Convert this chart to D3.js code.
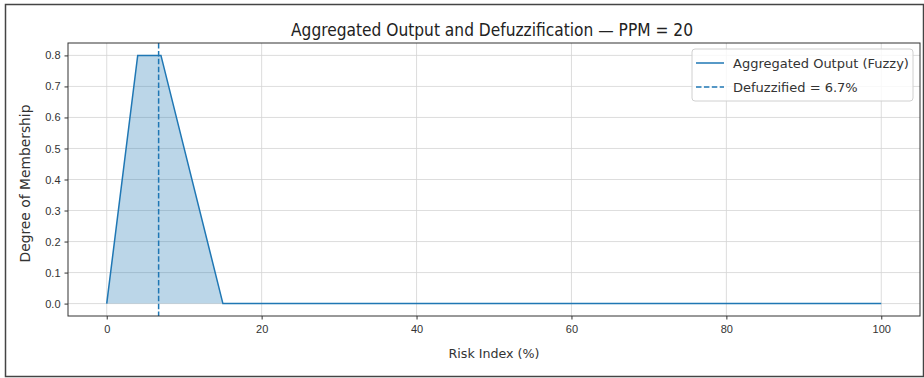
<!DOCTYPE html>
<html lang="en">
<head>
<meta charset="utf-8"/>
<title>Aggregated Output and Defuzzification</title>
<script src="https://d3js.org/d3.v7.min.js"></script>
<style>
  body { margin: 0; background: #fff; }
  svg { display: block; font-family: "DejaVu Sans", sans-serif; }
  .tick text { font-size: 11px; fill: #333; }
  .tick line { stroke: #333; }
  .domain { display: none; }
  .grid line { stroke: #d4d4d4; stroke-width: 0.8px; }
</style>
</head>
<body>
<div id="chart"></div>
<script>
// ---- data ----
var riskIndex = [0, 4, 7, 15, 100];          // x, %
var membership = [0, 0.8, 0.8, 0, 0];         // aggregated fuzzy output
var defuzzified = 6.7;                         // centroid, %
var xTicks = [0, 20, 40, 60, 80, 100];
var yTicks = [0, 0.1, 0.2, 0.3, 0.4, 0.5, 0.6, 0.7, 0.8];
var legendLabels = ["Aggregated Output (Fuzzy)", "Defuzzified = 6.7%"];

var W = 924, H = 378;
var margin = { top: 43, right: 4, bottom: 62, left: 68 },
    width = W - margin.left - margin.right,
    height = H - margin.top - margin.bottom;
var blue = "#1f77b4";

var svg = d3.select("#chart").append("svg")
    .attr("width", W)
    .attr("height", H);

// outer figure border
svg.append("rect")
    .attr("x", 5.5).attr("y", 4.5)
    .attr("width", 918).attr("height", 372)
    .attr("fill", "#fff")
    .attr("stroke", "#444")
    .attr("stroke-width", 1.5);

var g = svg.append("g")
    .attr("transform", "translate(" + margin.left + "," + margin.top + ")");

var x = d3.scaleLinear().domain([-5, 105]).range([0, width]);
var y = d3.scaleLinear().domain([-0.04, 0.84]).range([height, 0]);

// grid
g.append("g").attr("class", "grid")
  .selectAll("line").data(xTicks).enter().append("line")
    .attr("x1", function(d) { return x(d); }).attr("x2", function(d) { return x(d); })
    .attr("y1", 0).attr("y2", height);
g.append("g").attr("class", "grid")
  .selectAll("line").data(yTicks).enter().append("line")
    .attr("y1", function(d) { return y(d); }).attr("y2", function(d) { return y(d); })
    .attr("x1", 0).attr("x2", width);

var pts = riskIndex.map(function(d, i) { return [d, membership[i]]; });

// filled area
g.append("path")
    .datum(pts)
    .attr("fill", blue)
    .attr("fill-opacity", 0.3)
    .attr("d", d3.area()
      .x(function(d) { return x(d[0]); })
      .y0(y(0))
      .y1(function(d) { return y(d[1]); }));

// aggregated line
g.append("path")
    .datum(pts)
    .attr("fill", "none")
    .attr("stroke", blue)
    .attr("stroke-width", 1.5)
    .attr("d", d3.line()
      .x(function(d) { return x(d[0]); })
      .y(function(d) { return y(d[1]); }));

// defuzzified vertical line
g.append("line")
    .attr("x1", x(defuzzified)).attr("x2", x(defuzzified))
    .attr("y1", 0).attr("y2", height)
    .attr("stroke", blue)
    .attr("stroke-width", 1.5)
    .attr("stroke-dasharray", "5.5,2.4");

// axes
g.append("g")
    .attr("transform", "translate(0," + height + ")")
    .call(d3.axisBottom(x).tickValues(xTicks).tickSize(3.5).tickPadding(6)
      .tickFormat(d3.format("d")));
g.append("g")
    .call(d3.axisLeft(y).tickValues(yTicks).tickSize(3.5).tickPadding(4)
      .tickFormat(d3.format(".1f")));

// frame
g.append("rect")
    .attr("width", width).attr("height", height)
    .attr("fill", "none")
    .attr("stroke", "#333")
    .attr("stroke-width", 1);

// title and labels
svg.append("text")
    .attr("x", margin.left + width / 2 - 2).attr("y", 36)
    .attr("text-anchor", "middle")
    .attr("font-size", 17).attr("fill", "#222")
    .attr("textLength", 402).attr("lengthAdjust", "spacingAndGlyphs")
    .text("Aggregated Output and Defuzzification — PPM = 20");

svg.append("text")
    .attr("x", margin.left + width / 2).attr("y", 358)
    .attr("text-anchor", "middle")
    .attr("font-size", 13).attr("fill", "#333")
    .attr("textLength", 91).attr("lengthAdjust", "spacingAndGlyphs")
    .text("Risk Index (%)");

svg.append("text")
    .attr("transform", "translate(30," + (margin.top + height / 2 + 4) + ") rotate(-90)")
    .attr("text-anchor", "middle")
    .attr("font-size", 14).attr("fill", "#333")
    .attr("textLength", 158).attr("lengthAdjust", "spacingAndGlyphs")
    .text("Degree of Membership");

// legend
var lg = svg.append("g").attr("transform", "translate(692,49)");
lg.append("rect")
    .attr("width", 221).attr("height", 52).attr("rx", 3)
    .attr("fill", "#fff").attr("fill-opacity", 0.8)
    .attr("stroke", "#d0d0d0");
legendLabels.forEach(function(label, i) {
  var ly = 14 + i * 24;
  lg.append("line")
      .attr("x1", 4).attr("x2", 32).attr("y1", ly).attr("y2", ly)
      .attr("stroke", blue).attr("stroke-width", 1.5)
      .attr("stroke-dasharray", i === 1 ? "5.5,2.4" : null);
  lg.append("text")
      .attr("x", 41).attr("y", ly + 4.5)
      .attr("font-size", 13).attr("fill", "#333")
      .text(label);
});
</script>
</body>
</html>
